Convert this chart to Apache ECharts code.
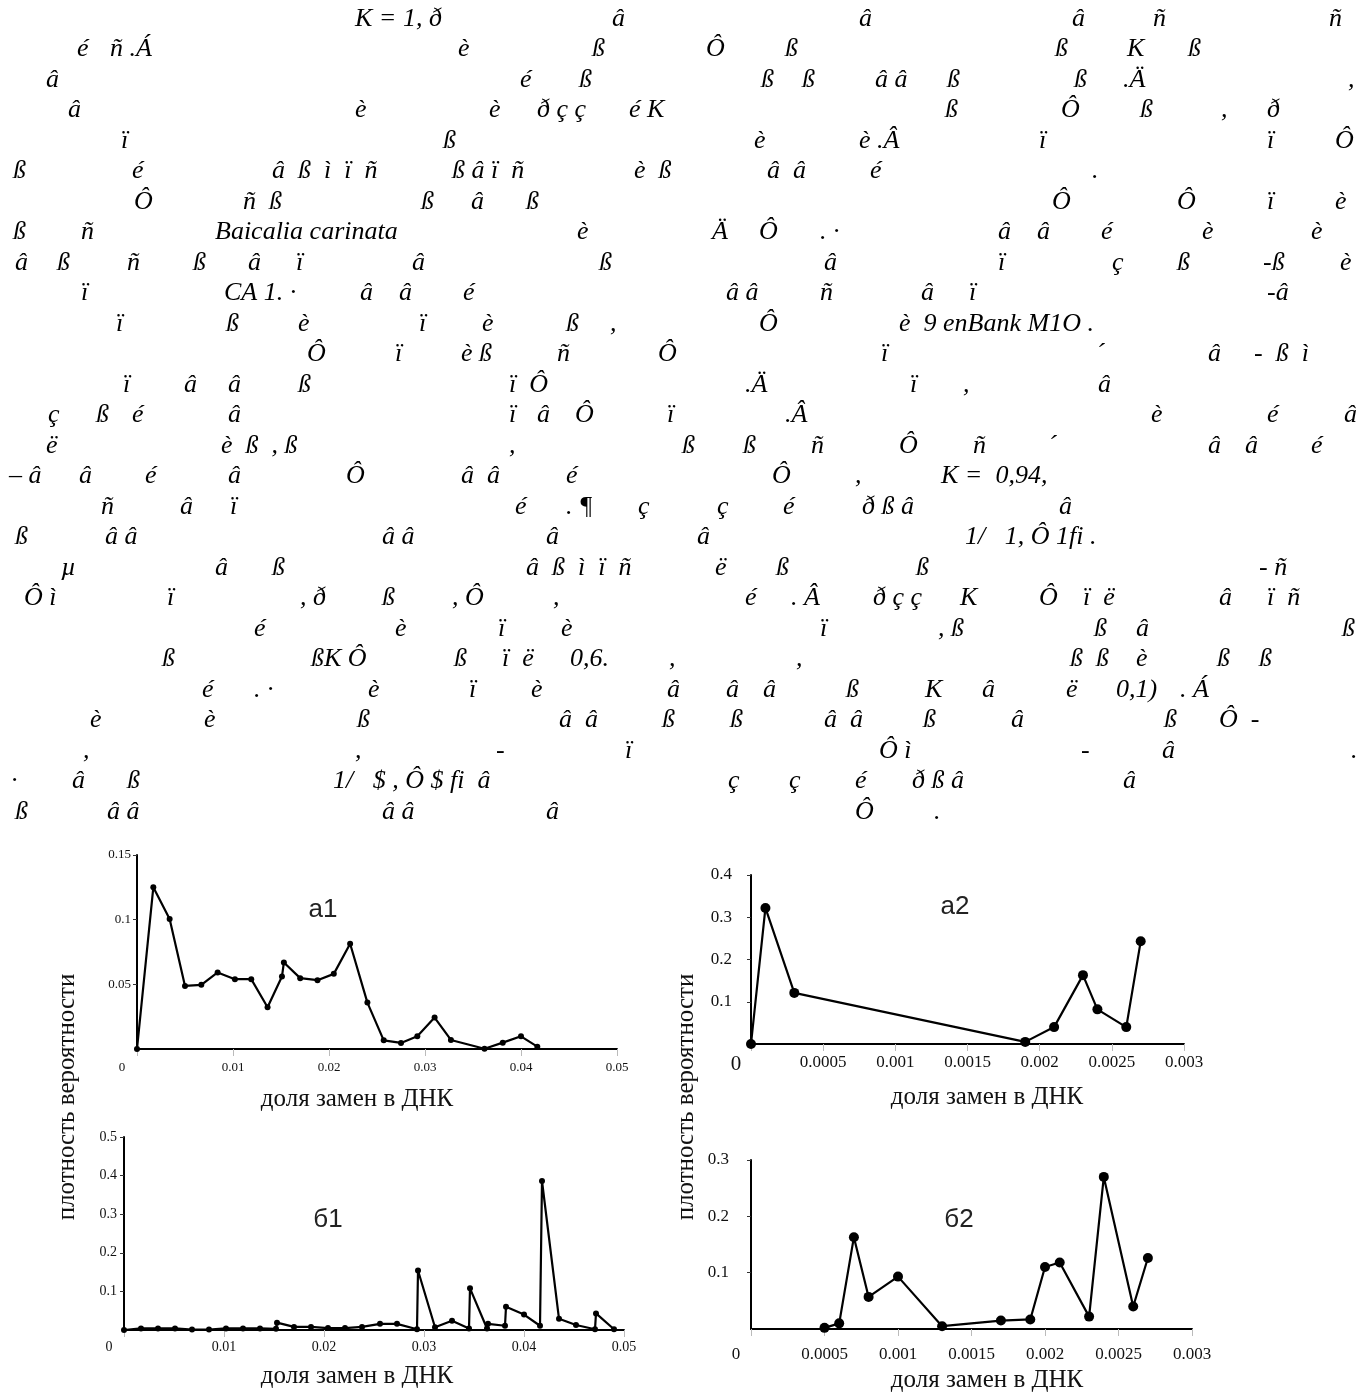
<!DOCTYPE html>
<html><head><meta charset="utf-8">
<script src="https://cdn.jsdelivr.net/npm/echarts@6/dist/echarts.min.js"></script>
<style>html,body{margin:0;padding:0;background:#fff}#c{width:1368px;height:1398px}</style>
</head><body><div id="c"></div>
<script>
// ---- data: chart а1 ----
const xA1 = [0, 0.0017, 0.0034, 0.0050, 0.0067, 0.0084, 0.0102, 0.0119, 0.0136, 0.0151, 0.0153, 0.0170, 0.0188, 0.0205, 0.0222, 0.0240, 0.0257, 0.0275, 0.0292, 0.0310, 0.0327, 0.0362, 0.0381, 0.0400, 0.0417];
const yA1 = [0, 0.125, 0.1005, 0.0488, 0.0496, 0.0592, 0.054, 0.054, 0.0323, 0.056, 0.0669, 0.0548, 0.0532, 0.0581, 0.0814, 0.0359, 0.0067, 0.0047, 0.0098, 0.0243, 0.007, 0.0002, 0.0049, 0.0098, 0.0018];
// ---- chart а2 ----
const xA2 = [0, 0.0001, 0.0003, 0.0019, 0.0021, 0.0023, 0.0024, 0.0026, 0.0027];
const yA2 = [0, 0.322, 0.121, 0.005, 0.040, 0.163, 0.082, 0.040, 0.243];
// ---- chart б1 ----
const xB1 = [0, 0.0017, 0.0034, 0.0051, 0.0068, 0.0085, 0.0102, 0.0119, 0.0136, 0.0152, 0.0153, 0.0170, 0.0187, 0.0204, 0.0221, 0.0238, 0.0256, 0.0273, 0.0293, 0.0294, 0.0311, 0.0328, 0.0345, 0.0346, 0.0363, 0.0364, 0.0381, 0.0382, 0.0400, 0.0416, 0.0418, 0.0435, 0.0452, 0.0471, 0.0472, 0.0490];
const yB1 = [0, 0.004, 0.004, 0.004, 0.001, 0.001, 0.004, 0.004, 0.004, 0.003, 0.019, 0.008, 0.008, 0.005, 0.005, 0.008, 0.016, 0.016, 0.002, 0.154, 0.007, 0.024, 0.004, 0.108, 0.004, 0.016, 0.011, 0.060, 0.040, 0.011, 0.386, 0.029, 0.013, 0.002, 0.043, 0.002];
// ---- chart б2 ----
const xB2 = [0.0005, 0.0006, 0.0007, 0.0008, 0.0010, 0.0013, 0.0017, 0.0019, 0.0020, 0.0021, 0.0023, 0.0024, 0.0026, 0.0027];
const yB2 = [0.002, 0.010, 0.163, 0.057, 0.093, 0.005, 0.015, 0.017, 0.110, 0.118, 0.022, 0.270, 0.040, 0.126];

const panelLabels = ['а1', 'а2', 'б1', 'б2'];
const xTitle = 'доля замен в ДНК';
const yTitle = 'плотность вероятности';

// ---- garbled page text (token, per line) ----
const textLines = [
 [[355,'K = 1, ð'],[612,'â'],[859,'â'],[1072,'â'],[1153,'ñ'],[1329,'ñ']],
 [[77,'é'],[110,'ñ .Á'],[458,'è'],[592,'ß'],[706,'Ô'],[785,'ß'],[1055,'ß'],[1127,'K'],[1188,'ß']],
 [[46,'â'],[520,'é'],[579,'ß'],[761,'ß'],[802,'ß'],[875,'â â'],[947,'ß'],[1074,'ß'],[1123,'.Ä'],[1348,',']],
 [[68,'â'],[355,'è'],[489,'è'],[537,'ð ç ç'],[629,'é K'],[945,'ß'],[1061,'Ô'],[1140,'ß'],[1221,','],[1267,'ð']],
 [[121,'ï'],[443,'ß'],[754,'è'],[859,'è .Â'],[1039,'ï'],[1267,'ï'],[1335,'Ô']],
 [[13,'ß'],[132,'é'],[272,'â  ß  ì  ï  ñ'],[452,'ß â ï  ñ'],[634,'è  ß'],[767,'â  â'],[870,'é'],[1092,'.']],
 [[134,'Ô'],[243,'ñ  ß'],[421,'ß'],[471,'â'],[526,'ß'],[1052,'Ô'],[1177,'Ô'],[1267,'ï'],[1335,'è']],
 [[13,'ß'],[81,'ñ'],[215,'Baicalia carinata'],[577,'è'],[712,'Ä'],[759,'Ô'],[820,'. ·'],[998,'â'],[1037,'â'],[1101,'é'],[1202,'è'],[1311,'è']],
 [[15,'â'],[57,'ß'],[127,'ñ'],[193,'ß'],[248,'â'],[296,'ï'],[412,'â'],[599,'ß'],[824,'â'],[998,'ï'],[1112,'ç'],[1177,'ß'],[1263,'-ß'],[1340,'è']],
 [[81,'ï'],[224,'CA 1. ·'],[360,'â'],[399,'â'],[463,'é'],[726,'â â'],[820,'ñ'],[921,'â'],[969,'ï'],[1267,'-â']],
 [[116,'ï'],[226,'ß'],[298,'è'],[419,'ï'],[482,'è'],[566,'ß'],[610,','],[759,'Ô'],[899,'è  9 enBank M1O .']],
 [[307,'Ô'],[395,'ï'],[461,'è ß'],[557,'ñ'],[658,'Ô'],[881,'ï'],[1096,'´'],[1208,'â'],[1254,'-  ß  ì']],
 [[123,'ï'],[184,'â'],[228,'â'],[298,'ß'],[509,'ï  Ô'],[745,'.Ä'],[910,'ï'],[963,','],[1098,'â']],
 [[48,'ç'],[96,'ß'],[132,'é'],[228,'â'],[509,'ï'],[537,'â'],[575,'Ô'],[667,'ï'],[785,'.Â'],[1151,'è'],[1267,'é'],[1344,'â']],
 [[46,'ë'],[221,'è  ß  , ß'],[509,','],[682,'ß'],[743,'ß'],[811,'ñ'],[899,'Ô'],[973,'ñ'],[1048,'´'],[1208,'â'],[1245,'â'],[1311,'é']],
 [[9,'– â'],[79,'â'],[145,'é'],[228,'â'],[346,'Ô'],[461,'â  â'],[566,'é'],[772,'Ô'],[855,','],[941,'K =  0,94,']],
 [[101,'ñ'],[180,'â'],[230,'ï'],[515,'é'],[566,'. ¶'],[638,'ç'],[717,'ç'],[783,'é'],[862,'ð ß â'],[1059,'â']],
 [[15,'ß'],[105,'â â'],[382,'â â'],[546,'â'],[697,'â'],[965,'1/   1, Ô 1fi .']],
 [[61,'µ'],[215,'â'],[272,'ß'],[526,'â  ß  ì  ï  ñ'],[715,'ë'],[776,'ß'],[916,'ß'],[1259,'- ñ']],
 [[24,'Ô ì'],[167,'ï'],[300,', ð'],[382,'ß'],[452,', Ô'],[553,','],[745,'é'],[791,'. Â'],[873,'ð ç ç'],[960,'K'],[1039,'Ô'],[1083,'ï  ë'],[1219,'â'],[1267,'ï  ñ']],
 [[254,'é'],[395,'è'],[498,'ï'],[561,'è'],[820,'ï'],[938,', ß'],[1094,'ß'],[1136,'â'],[1342,'ß']],
 [[162,'ß'],[311,'ßK Ô'],[454,'ß'],[502,'ï  ë'],[570,'0,6.'],[669,','],[796,','],[1070,'ß  ß'],[1136,'è'],[1217,'ß'],[1259,'ß']],
 [[202,'é'],[254,'. ·'],[368,'è'],[469,'ï'],[531,'è'],[667,'â'],[726,'â'],[763,'â'],[846,'ß'],[925,'K'],[982,'â'],[1066,'ë'],[1116,'0,1)'],[1180,'. Á']],
 [[90,'è'],[204,'è'],[357,'ß'],[559,'â  â'],[662,'ß'],[730,'ß'],[824,'â  â'],[923,'ß'],[1011,'â'],[1164,'ß'],[1219,'Ô  -']],
 [[83,','],[355,','],[496,'-'],[625,'ï'],[879,'Ô ì'],[1081,'-'],[1162,'â'],[1351,'.']],
 [[11,'·'],[72,'â'],[127,'ß'],[333,'1/   $ , Ô $ fi  â'],[728,'ç'],[789,'ç'],[855,'é'],[912,'ð ß â'],[1123,'â']],
 [[15,'ß'],[107,'â â'],[382,'â â'],[546,'â'],[855,'Ô'],[934,'.']]
];

// ---- layout ----
const serif = '"Liberation Serif", "DejaVu Serif", serif';
const sans = '"Liberation Sans", Arial, sans-serif';
const grids = [
  {left: 137, top: 855, width: 480, height: 194},
  {left: 751, top: 875, width: 433, height: 169},
  {left: 124, top: 1137, width: 500, height: 193},
  {left: 751, top: 1160, width: 441, height: 169}
];
const axCfg = [
  {xmax: 0.05, xint: 0.01, ymax: 0.15, yint: 0.05, fs: 13, zfs: 13, xm: 12, ym: 6, sym: 6},
  {xmax: 0.003, xint: 0.0005, ymax: 0.4, yint: 0.1, fs: 17, zfs: 21, xm: 10, ym: 19, sym: 10},
  {xmax: 0.05, xint: 0.01, ymax: 0.5, yint: 0.1, fs: 14, zfs: 14, xm: 10, ym: 7, sym: 6},
  {xmax: 0.003, xint: 0.0005, ymax: 0.3, yint: 0.1, fs: 17, zfs: 17, xm: 17, ym: 22, sym: 10}
];
const fmt = v => String(+v.toFixed(5));

const xAxis = axCfg.map((c, i) => ({
  type: 'value', gridIndex: i, min: 0, max: c.xmax, interval: c.xint,
  axisLine: {show: true, onZero: false, lineStyle: {color: '#000', width: 2}},
  axisTick: {show: true, length: 7, lineStyle: {color: '#bbb', width: 1}},
  splitLine: {show: false},
  axisLabel: {
    showMinLabel: true, showMaxLabel: true, margin: c.xm, color: '#111',
    fontFamily: serif, fontSize: c.fs,
    formatter: v => v === 0 ? '{z|0}' : fmt(v),
    rich: {z: {fontFamily: serif, fontSize: c.zfs, color: '#111', padding: [0, 30, 0, 0]}}
  }
}));
const yAxis = axCfg.map((c, i) => ({
  type: 'value', gridIndex: i, min: 0, max: c.ymax, interval: c.yint,
  axisLine: {show: true, onZero: false, lineStyle: {color: '#000', width: 2}},
  axisTick: {show: true, length: 4, lineStyle: {color: '#333', width: 1}},
  splitLine: {show: false},
  axisLabel: {showMinLabel: false, margin: c.ym, color: '#111', fontFamily: serif, fontSize: c.fs, formatter: v => fmt(v)}
}));

const seriesData = [[xA1, yA1], [xA2, yA2], [xB1, yB1], [xB2, yB2]];
const series = seriesData.map((d, i) => ({
  type: 'line', xAxisIndex: i, yAxisIndex: i,
  data: d[0].map((x, k) => [x, d[1][k]]),
  symbol: 'circle', symbolSize: axCfg[i].sym, showSymbol: true,
  lineStyle: {color: '#000', width: 2.2}, itemStyle: {color: '#000'},
  emphasis: {disabled: true}, silent: true, animation: false
}));

const graphic = [];
textLines.forEach((line, li) => {
  const y = 19 + li * 30.5;
  line.forEach(t => graphic.push({
    type: 'text', x: t[0], y: y, silent: true,
    style: {text: t[1], fill: '#000', font: 'italic 26px ' + serif, textVerticalAlign: 'middle', textAlign: 'left'}
  }));
});
const labelPos = [[323, 910], [955, 907], [328, 1220], [959, 1220]];
panelLabels.forEach((s, i) => graphic.push({
  type: 'text', x: labelPos[i][0], y: labelPos[i][1], silent: true,
  style: {text: s, fill: '#222', font: '26px ' + sans, textAlign: 'center', textVerticalAlign: 'middle'}
}));
[[357, 1099], [987, 1097], [357, 1376], [987, 1380]].forEach(p => graphic.push({
  type: 'text', x: p[0], y: p[1], silent: true,
  style: {text: xTitle, fill: '#111', font: '25px ' + serif, textAlign: 'center', textVerticalAlign: 'middle'}
}));
[[67, 1097], [686, 1097]].forEach(p => graphic.push({
  type: 'text', x: p[0], y: p[1], rotation: Math.PI / 2, silent: true,
  style: {text: yTitle, fill: '#111', font: '25px ' + serif, textAlign: 'center', textVerticalAlign: 'middle'}
}));

const chart = echarts.init(document.getElementById('c'), null, {renderer: 'canvas'});
chart.setOption({
  animation: false,
  backgroundColor: '#fff',
  grid: grids,
  xAxis: xAxis,
  yAxis: yAxis,
  series: series,
  graphic: graphic
});
</script></body></html>
